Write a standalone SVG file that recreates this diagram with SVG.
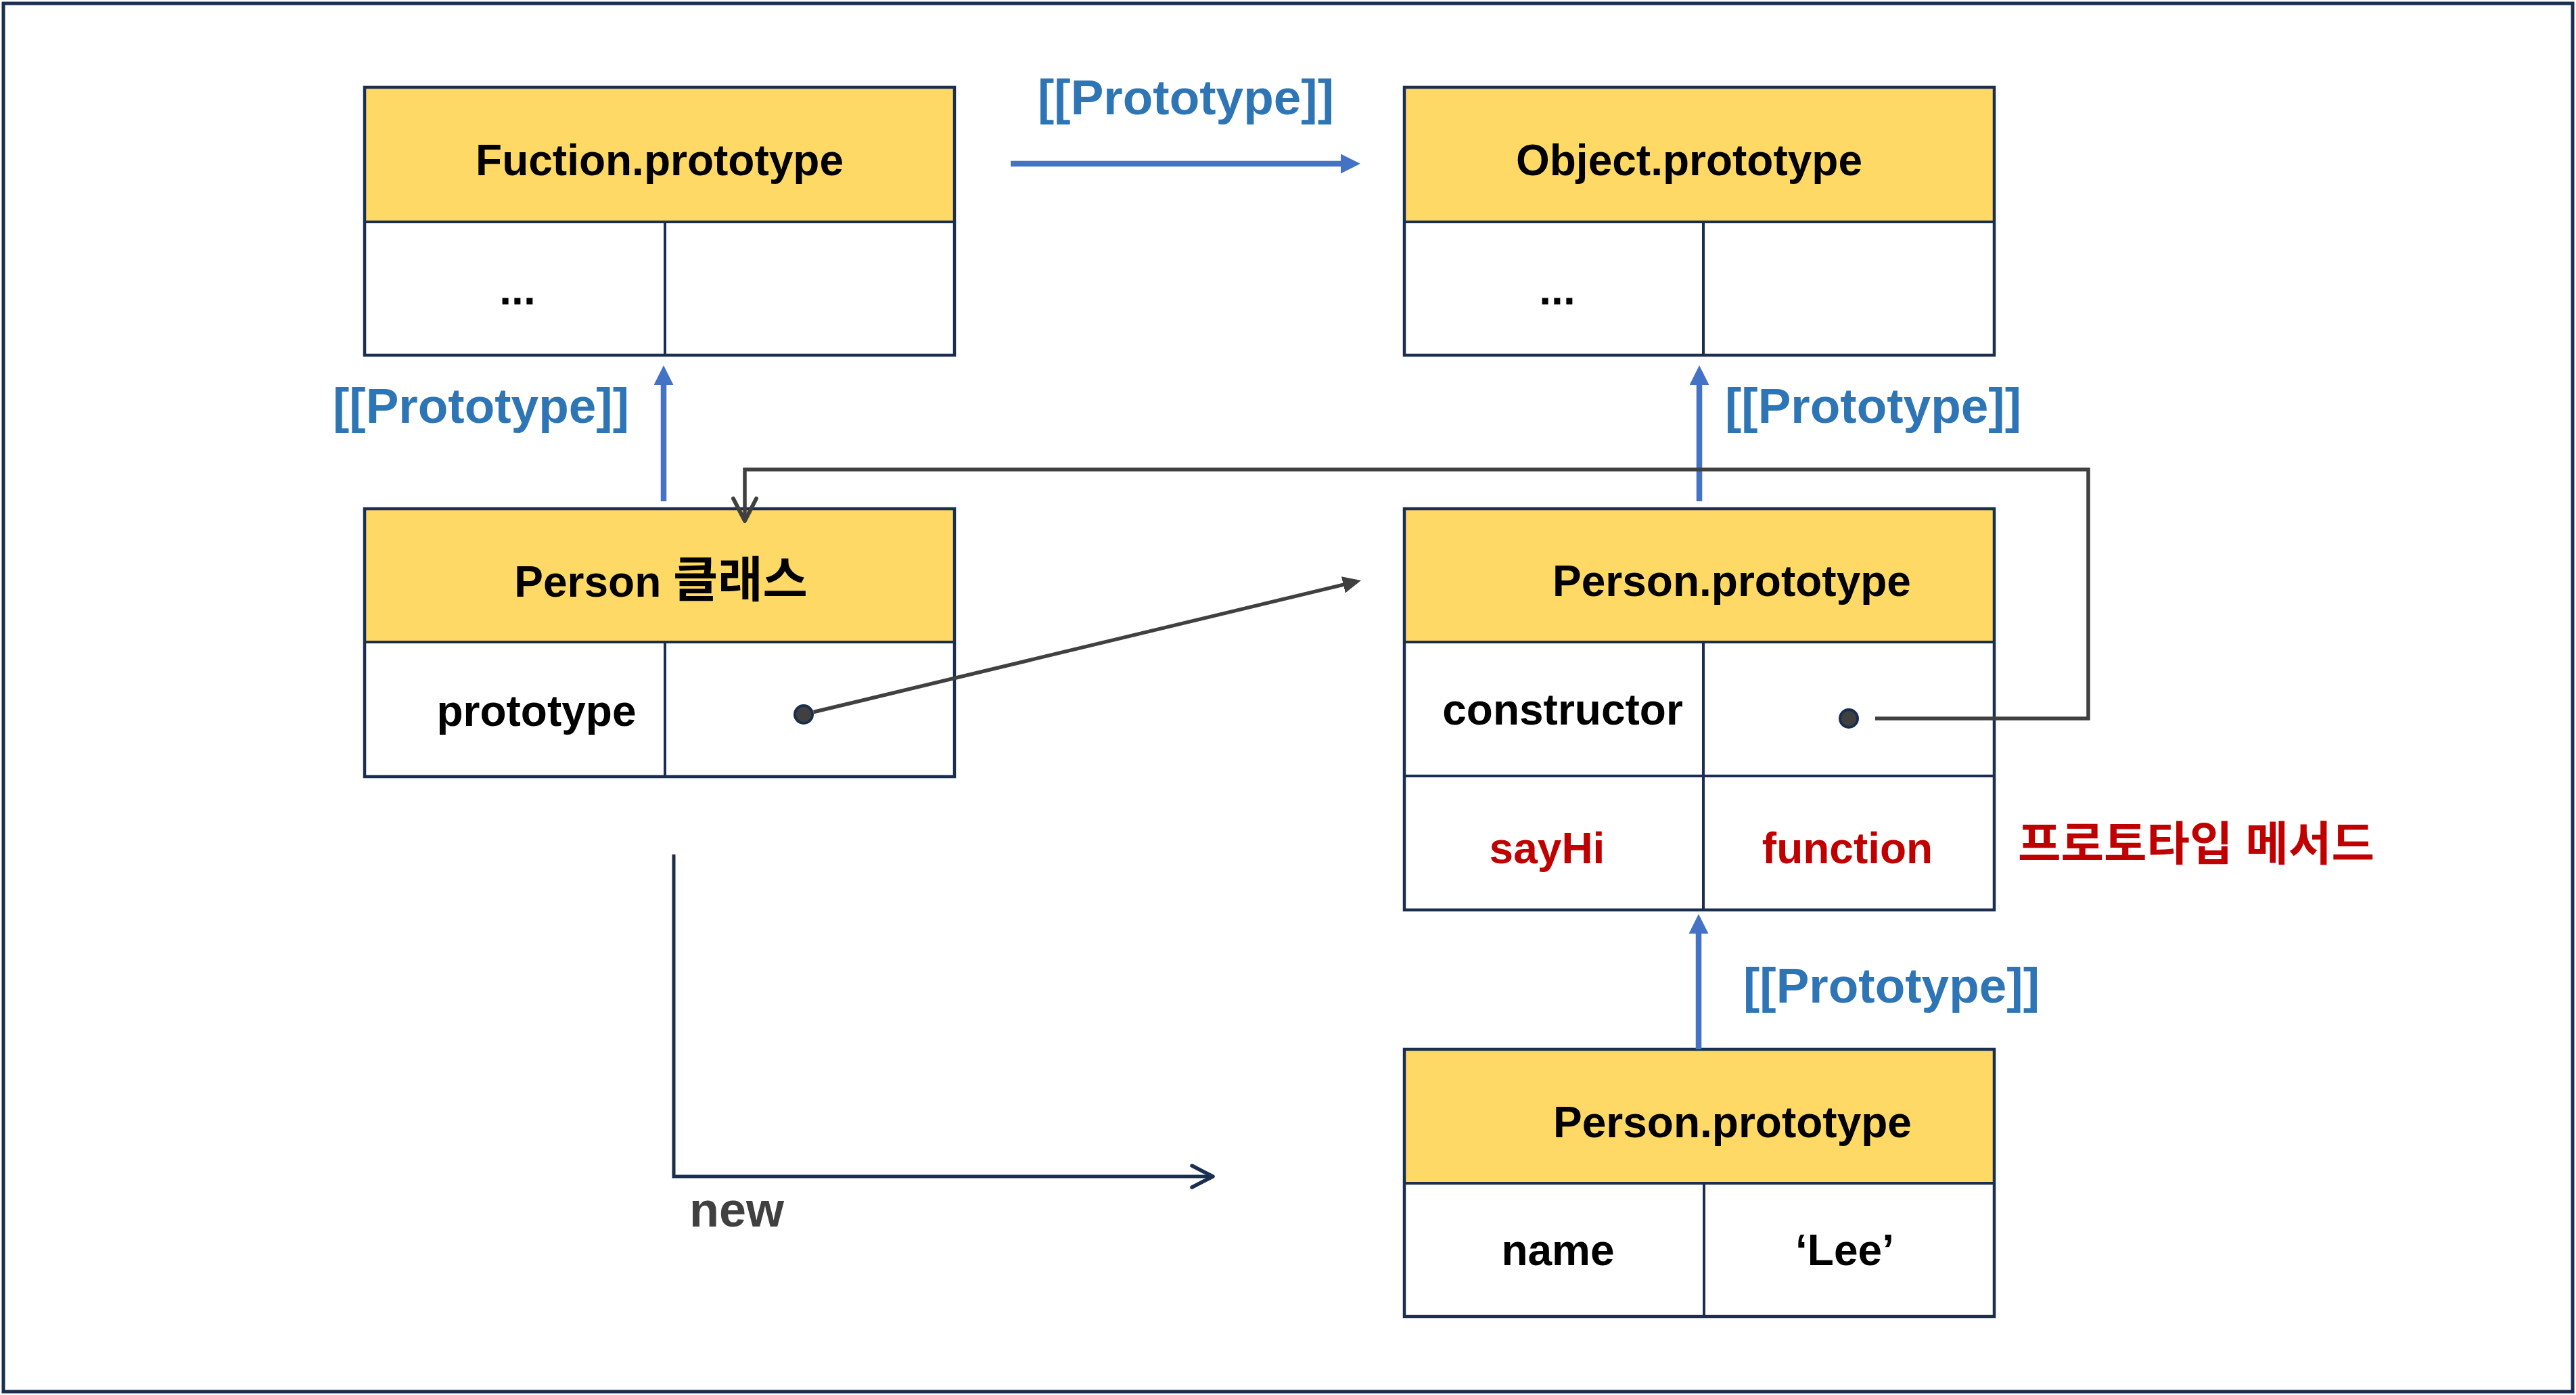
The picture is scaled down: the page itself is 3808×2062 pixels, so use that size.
<svg xmlns="http://www.w3.org/2000/svg" width="3808" height="2062" viewBox="0 0 3808 2062">
  <style>
    .frame{fill:none;stroke:#1A2E50;stroke-width:5}
    .hdr{fill:#FFD966}
    .body{fill:#FFFFFF}
    .outline{fill:none;stroke:#1A2E50;stroke-width:4.5}
    .div{stroke:#1A2E50;stroke-width:4;fill:none}
    .t{font-family:"Liberation Sans","Noto Sans CJK KR",sans-serif;font-weight:bold;font-size:64px;fill:#000000;text-anchor:middle}
    .red{fill:#C00000}
    .ko{font-size:72px}
    .lbl{font-family:"Liberation Sans","Noto Sans CJK KR",sans-serif;font-weight:bold;font-size:73px;fill:#2E75B6;text-anchor:middle}
    .kr{font-family:"Liberation Sans","Noto Sans CJK KR",sans-serif;font-weight:bold;font-size:69px;fill:#C00000}
    .new{font-family:"Liberation Sans",sans-serif;font-weight:bold;font-size:72px;fill:#404040}
    .blue{fill:none;stroke:#4472C4;stroke-width:8.5;marker-end:url(#blueHead)}
    .dark{fill:none;stroke:#404040;stroke-width:5.5;marker-end:url(#darkHead)}
    .loop{fill:none;stroke:#404040;stroke-width:5.5;marker-end:url(#darkVee)}
    .newl{fill:none;stroke:#1A2E50;stroke-width:5;marker-end:url(#navyVee)}
    .dot{fill:#404040;stroke:#1A2E50;stroke-width:4}
  </style>
  <defs>
    <marker id="blueHead" markerUnits="userSpaceOnUse" markerWidth="30" markerHeight="30" refX="4" refY="14.5" orient="auto" viewBox="0 0 30 30">
      <path d="M0,0 L29,14.5 L0,29 Z" fill="#4472C4"/>
    </marker>
    <marker id="darkHead" markerUnits="userSpaceOnUse" markerWidth="28" markerHeight="26" refX="7" refY="12.5" orient="auto" viewBox="0 0 28 26">
      <path d="M0,0 L27,12.5 L0,25 Z" fill="#404040"/>
    </marker>
    <marker id="darkVee" markerUnits="userSpaceOnUse" markerWidth="44" markerHeight="44" refX="34" refY="22" orient="auto" viewBox="0 0 44 44">
      <path d="M4,5 L37,22 L4,39" fill="none" stroke="#404040" stroke-width="6" stroke-linecap="round" stroke-linejoin="round"/>
    </marker>
    <marker id="navyVee" markerUnits="userSpaceOnUse" markerWidth="44" markerHeight="44" refX="34" refY="22" orient="auto" viewBox="0 0 44 44">
      <path d="M6,6 L37,22 L6,38" fill="none" stroke="#1A2E50" stroke-width="5.5" stroke-linecap="round" stroke-linejoin="round"/>
    </marker>
  </defs>

  <rect class="frame" x="5" y="5" width="3798" height="2052"/>

  <g id="fuction-prototype">
    <rect class="hdr" x="539" y="129" width="872" height="199"/>
    <rect class="body" x="539" y="328" width="872" height="197"/>
    <rect class="outline" x="539" y="129" width="872" height="396"/>
    <line class="div" x1="539" y1="328" x2="1411" y2="328"/>
    <line class="div" x1="983" y1="328" x2="983" y2="525"/>
    <text class="t" x="975" y="259">Fuction.prototype</text>
    <text class="t" x="765" y="450">...</text>
  </g>

  <g id="object-prototype">
    <rect class="hdr" x="2076" y="129" width="872" height="199"/>
    <rect class="body" x="2076" y="328" width="872" height="197"/>
    <rect class="outline" x="2076" y="129" width="872" height="396"/>
    <line class="div" x1="2076" y1="328" x2="2948" y2="328"/>
    <line class="div" x1="2518" y1="328" x2="2518" y2="525"/>
    <text class="t" x="2497" y="259">Object.prototype</text>
    <text class="t" x="2302" y="450">...</text>
  </g>

  <g id="person-class">
    <rect class="hdr" x="539" y="752" width="872" height="197"/>
    <rect class="body" x="539" y="949" width="872" height="199"/>
    <rect class="outline" x="539" y="752" width="872" height="396"/>
    <line class="div" x1="539" y1="949" x2="1411" y2="949"/>
    <line class="div" x1="983" y1="949" x2="983" y2="1148"/>
    <text class="t" x="977" y="882">Person <tspan class="ko">클래스</tspan></text>
    <text class="t" x="793" y="1073">prototype</text>
  </g>

  <g id="person-prototype">
    <rect class="hdr" x="2076" y="752" width="872" height="197"/>
    <rect class="body" x="2076" y="949" width="872" height="396"/>
    <rect class="outline" x="2076" y="752" width="872" height="593"/>
    <line class="div" x1="2076" y1="949" x2="2948" y2="949"/>
    <line class="div" x1="2076" y1="1147" x2="2948" y2="1147"/>
    <line class="div" x1="2518" y1="949" x2="2518" y2="1345"/>
    <text class="t" x="2560" y="881">Person.prototype</text>
    <text class="t" x="2310" y="1071">constructor</text>
    <text class="t red" x="2287" y="1276">sayHi</text>
    <text class="t red" x="2731" y="1276">function</text>
  </g>

  <g id="prototype-method-label">
    <text class="kr" x="2983" y="1272">프로토타입 메서드</text>
  </g>

  <g id="person-instance">
    <rect class="hdr" x="2076" y="1551" width="872" height="198"/>
    <rect class="body" x="2076" y="1749" width="872" height="197"/>
    <rect class="outline" x="2076" y="1551" width="872" height="395"/>
    <line class="div" x1="2076" y1="1749" x2="2948" y2="1749"/>
    <line class="div" x1="2519" y1="1749" x2="2519" y2="1946"/>
    <text class="t" x="2561" y="1681">Person.prototype</text>
    <text class="t" x="2303" y="1870">name</text>
    <text class="t" x="2727" y="1870">‘Lee’</text>
  </g>

  <g id="connectors">
    <path class="blue" d="M1494,242 L1986,242"/>
    <text class="lbl" x="1753" y="169">[[Prototype]]</text>

    <path class="blue" d="M981,741 L981,565"/>
    <text class="lbl" x="711" y="625">[[Prototype]]</text>

    <path class="blue" d="M2512,741 L2512,565"/>
    <text class="lbl" x="2769" y="625">[[Prototype]]</text>

    <path class="blue" d="M2511,1551 L2511,1376"/>
    <text class="lbl" x="2796" y="1482">[[Prototype]]</text>

    <path class="dark" d="M1202.6,1052.5 L1992.6,862.7"/>
    <circle class="dot" cx="1188" cy="1056" r="13"/>

    <circle class="dot" cx="2733" cy="1062" r="13"/>
    <path class="loop" d="M2772,1062 L3087,1062 L3087,694 L1101,694 L1101,767"/>

    <path class="newl" d="M996,1263 L996,1739 L1790,1739"/>
    <text class="new" x="1019" y="1813">new</text>
  </g>
</svg>
